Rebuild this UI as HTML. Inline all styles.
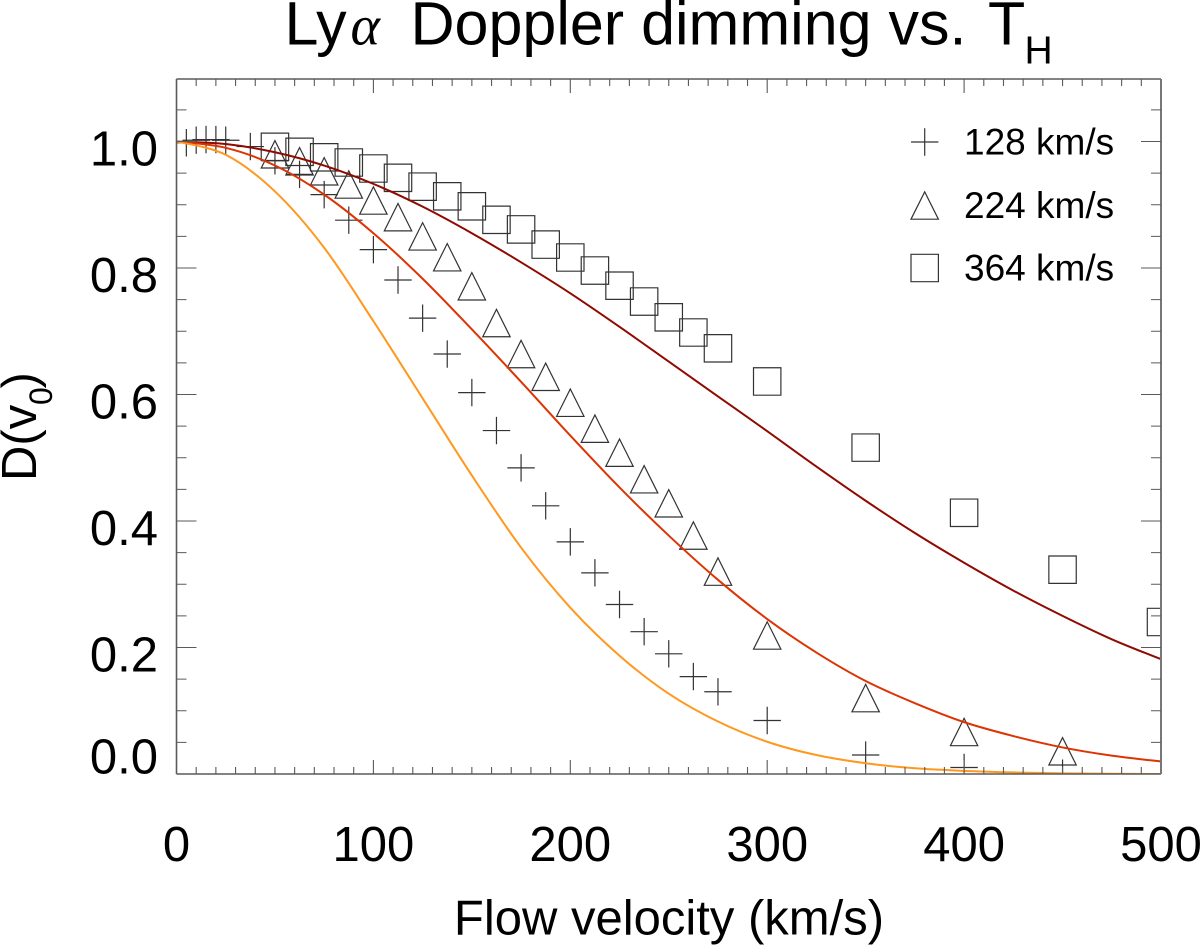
<!DOCTYPE html>
<html>
<head>
<meta charset="utf-8">
<title>Ly-alpha Doppler dimming vs. TH</title>
<style>
html,body{margin:0;padding:0;background:#fff;}
svg{display:block;}
text{font-family:"Liberation Sans",sans-serif;fill:#000;}
</style>
</head>
<body>
<svg id="chart" xmlns="http://www.w3.org/2000/svg" width="1200" height="946" viewBox="0 0 1200 946">
  <rect x="0" y="0" width="1200" height="946" fill="#fff"/>
  <defs><clipPath id="plot-clip"><rect x="176.5" y="79" width="984.5" height="695"/></clipPath></defs>
  <g>
    <text x="284.5" y="44.5" font-size="61">Ly</text>
    <text x="350.5" y="44.5" font-size="56" font-style="italic" style="font-family:'Liberation Serif',serif">α</text>
    <text x="410.5" y="44.5" font-size="61">Doppler dimming vs.</text>
    <text x="988" y="44.5" font-size="61">T</text>
    <text x="1024.5" y="63.3" font-size="39">H</text>
  </g>
  <g id="series" clip-path="url(#plot-clip)"></g>
  <g id="axes"></g>
  <g id="legend"></g>
  <text x="669" y="934.5" font-size="49" text-anchor="middle">Flow velocity (km/s)</text>
  <g transform="translate(36,481) rotate(-90)">
    <text x="0" y="0" font-size="49">D(v</text>
    <text x="76" y="16" font-size="32">0</text>
    <text x="92.5" y="0" font-size="49">)</text>
  </g>
</svg>
<script>
const xTickValues = [0, 100, 200, 300, 400, 500];
const yTickValues = [0.0, 0.2, 0.4, 0.6, 0.8, 1.0];
const xMinorStep = 10;
const yMinorStep = 0.05;

const curveVelocity = [0,25,50,75,100,125,150,175,200,225,250,275,300,325,350,375,400,425,450,475,500];
const curve128 = [1,0.979,0.921,0.832,0.716,0.594,0.472,0.358,0.263,0.187,0.127,0.083,0.051,0.030,0.017,0.009,0.005,0.0025,0.001,0.0003,0];
const curve224 = [1,0.990,0.962,0.916,0.855,0.783,0.703,0.620,0.535,0.453,0.377,0.307,0.245,0.192,0.147,0.112,0.082,0.060,0.042,0.029,0.0198];
const curve364 = [1,0.996,0.983,0.962,0.933,0.897,0.855,0.809,0.760,0.707,0.652,0.597,0.542,0.486,0.432,0.381,0.334,0.290,0.250,0.213,0.1815];

const plusVelocity = [5,10,15,20,25,37.5,50,62.5,75,87.5,100,112.5,125,137.5,150,162.5,175,187.5,200,212.5,225,237.5,250,262.5,275,300,350,400,450];
const plusValues = [0.998,1.002,1.003,1.003,1.002,0.992,0.9695,0.948,0.916,0.8756,0.829,0.781,0.7207,0.664,0.603,0.543,0.484,0.424,0.367,0.318,0.268,0.225,0.19,0.154,0.13,0.0846,0.030,0.0103,0.0013];

const triangleVelocity = [50,62.5,75,87.5,100,112.5,125,137.5,150,162.5,175,187.5,200,212.5,225,237.5,250,262.5,275,300,350,400,450];
const triangleValues = [0.9798,0.9687,0.9529,0.932,0.9067,0.8803,0.850,0.817,0.771,0.713,0.664,0.628,0.587,0.546,0.508,0.466,0.428,0.377,0.32,0.219,0.12,0.0664,0.0359];

const squareVelocity = [50,62.5,75,87.5,100,112.5,125,137.5,150,162.5,175,187.5,200,212.5,225,237.5,250,262.5,275,300,350,400,450,500];
const squareValues = [0.9916,0.9837,0.975,0.9668,0.9573,0.9426,0.9286,0.9133,0.8975,0.8762,0.861,0.837,0.8166,0.796,0.772,0.747,0.722,0.698,0.673,0.6206,0.516,0.413,0.323,0.2403];

const legendLabels = ['128 km/s', '224 km/s', '364 km/s'];

const NS = 'http://www.w3.org/2000/svg';
const X0 = 176.5, X1 = 1161, XMAX = 500;
const Y0 = 774, Y1 = 79, YMAX = 1.0988;
const sx = v => X0 + (X1 - X0) * v / XMAX;
const sy = d => Y0 - (Y0 - Y1) * d / YMAX;
const MARK = '#333', AXIS = '#5a5a5a';

function mk(tag, parent, attrs) {
  const el = document.createElementNS(NS, tag);
  for (const k in attrs) el.setAttribute(k, attrs[k]);
  parent.appendChild(el);
  return el;
}
const series = document.getElementById('series');
const axes = document.getElementById('axes');
const legend = document.getElementById('legend');

function plusPath(cx, cy) {
  const h = 13.7;
  return `M${cx - h} ${cy}H${cx + h}M${cx} ${cy - h}V${cy + h}`;
}
function trianglePath(cx, cy) {
  const w = 13.7;
  return `M${cx - w} ${cy + w}L${cx} ${cy - w}L${cx + w} ${cy + w}Z`;
}
function squarePath(cx, cy) {
  const h = 13.7;
  return `M${cx - h} ${cy - h}H${cx + h}V${cy + h}H${cx - h}Z`;
}

function drawMarkers(vs, ds, shape, name) {
  vs.forEach((v, i) => {
    const p = mk('path', series, {d: shape(sx(v), sy(ds[i])), fill: 'none', stroke: MARK, 'stroke-width': 1.2});
    
    
  });
}
drawMarkers(plusVelocity, plusValues, plusPath, 'marker-128-kms');
drawMarkers(triangleVelocity, triangleValues, trianglePath, 'marker-224-kms');
drawMarkers(squareVelocity, squareValues, squarePath, 'marker-364-kms');

function curvePath(vs, ds) {
  const pts = vs.map((v, i) => [sx(v), sy(ds[i])]);
  let d = `M${pts[0][0]} ${pts[0][1]}`;
  for (let i = 0; i < pts.length - 1; i++) {
    const a = pts[Math.max(i - 1, 0)], b = pts[i], c = pts[i + 1], e = pts[Math.min(i + 2, pts.length - 1)];
    d += `C${b[0] + (c[0] - a[0]) / 6} ${b[1] + (c[1] - a[1]) / 6} ${c[0] - (e[0] - b[0]) / 6} ${c[1] - (e[1] - b[1]) / 6} ${c[0]} ${c[1]}`;
  }
  return d;
}
const curve3 = mk('path', series, {d: curvePath(curveVelocity, curve364), fill: 'none', stroke: '#8f0a00', 'stroke-width': 2});


const curve2 = mk('path', series, {d: curvePath(curveVelocity, curve224), fill: 'none', stroke: '#dc3403', 'stroke-width': 2});


const curve1 = mk('path', series, {d: curvePath(curveVelocity, curve128), fill: 'none', stroke: '#ff981e', 'stroke-width': 2});



const frameLeft = mk('path', axes, {d: `M${X0} ${Y1}V${Y0}`, stroke: AXIS, 'stroke-width': 1.6, fill: 'none'});


const frameBottom = mk('path', axes, {d: `M${X0} ${Y0}H${X1}`, stroke: AXIS, 'stroke-width': 1.6, fill: 'none'});


const frameTop = mk('path', axes, {d: `M${X0} ${Y1}H${X1}`, stroke: AXIS, 'stroke-width': 1.6, fill: 'none'});


const frameRight = mk('path', axes, {d: `M${X1} ${Y1}V${Y0}`, stroke: '#777', 'stroke-width': 2, fill: 'none'});



for (let k = 1; k * xMinorStep < XMAX; k++) {
  const v = k * xMinorStep;
  const len = (v % 100 === 0) ? 14 : 7;
  const x = sx(v);
  const t = mk('path', axes, {d: `M${x} ${Y0}V${Y0 - len}M${x} ${Y1}V${Y1 + len}`, stroke: AXIS, 'stroke-width': 1.1, fill: 'none'});
  
  
}
for (let k = 1; k * yMinorStep < YMAX; k++) {
  const d = k * yMinorStep;
  const len = (k % 4 === 0) ? 20 : 10;
  const y = sy(d);
  const t = mk('path', axes, {d: `M${X0} ${y}H${X0 + len}M${X1} ${y}H${X1 - len}`, stroke: AXIS, 'stroke-width': 1.1, fill: 'none'});
  
  
}
xTickValues.forEach(v => {
  const t = mk('text', axes, {x: sx(v), y: 861, 'font-size': 49, 'text-anchor': 'middle'});
  t.textContent = String(v);
  
  
});
yTickValues.forEach(d => {
  const t = mk('text', axes, {x: 158, y: Math.min(sy(d) + 24.1, 773.5), 'font-size': 49, 'text-anchor': 'end'});
  t.textContent = d.toFixed(1);
  
  
});

const legendShapes = [plusPath, trianglePath, squarePath];
const legendCenter = [142, 205.5, 268];
legendLabels.forEach((label, i) => {
  const m = mk('path', legend, {d: legendShapes[i](924.7, legendCenter[i]), fill: 'none', stroke: MARK, 'stroke-width': 1.2});
  
  
  const t = mk('text', legend, {x: 964, y: legendCenter[i] + 12.5, 'font-size': 37});
  t.textContent = label;
  
  
});
</script>
</body>
</html>
